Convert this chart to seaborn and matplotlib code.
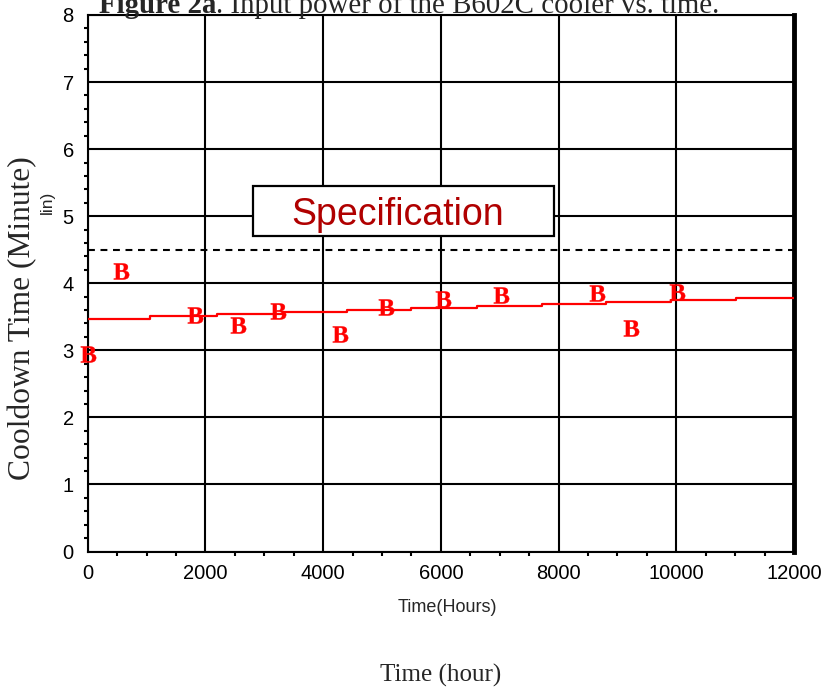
import matplotlib
matplotlib.use("Agg")
import matplotlib.pyplot as plt
import seaborn as sns
import pandas as pd
from matplotlib.patches import Rectangle
from matplotlib.ticker import MultipleLocator

# ---------------- data ----------------
step_hours = [0, 1050, 2190, 3310, 4410, 5500, 6620, 7720, 8810, 9910, 11020, 12000]
step_minutes = [3.47, 3.51, 3.54, 3.57, 3.60, 3.63, 3.66, 3.69, 3.72, 3.75, 3.78, 3.78]
test_hours = [0, 570, 1820, 2550, 3230, 4280, 5060, 6040, 7020, 8660, 9235, 10010]
test_minutes = [2.95, 4.19, 3.52, 3.37, 3.58, 3.25, 3.64, 3.76, 3.82, 3.86, 3.33, 3.87]
spec_minutes = 4.5
x_ticks = [0, 2000, 4000, 6000, 8000, 10000, 12000]
y_ticks = [0, 1, 2, 3, 4, 5, 6, 7, 8]

title_bold = "Figure 2a"
title_rest = ". Input power of the B602C cooler vs. time."
y_label = "Cooldown Time (Minute)"
x_label_inner = "Time(Hours)"
x_label_outer = "Time (hour)"
spec_label = "Specification"
stray_label = "lin)"

# ---------------- style ----------------
sns.set_theme(style="white")
plt.rcParams["font.family"] = ["Liberation Sans", "DejaVu Sans"]
plt.rcParams["mathtext.fontset"] = "custom"
plt.rcParams["mathtext.rm"] = "Liberation Serif"
plt.rcParams["mathtext.bf"] = "Liberation Serif:bold"

W, H = 825, 689
fig = plt.figure(figsize=(W / 100, H / 100), dpi=100)
fig.patch.set_facecolor("white")
ax = fig.add_axes([87.7 / W, (H - 551.5) / H, (794 - 87.7) / W, (551.5 - 15) / H])
ax.set_facecolor("white")

steps = pd.DataFrame({"hours": step_hours, "minutes": step_minutes})
tests = pd.DataFrame({"hours": test_hours, "minutes": test_minutes})

ax.axhline(spec_minutes, color="black", lw=1.5, ls=(0, (3.3, 2.7)), zorder=2)
sns.lineplot(data=steps, x="hours", y="minutes", ax=ax, color="red",
             lw=1.6, drawstyle="steps-post", zorder=4)
sns.scatterplot(data=tests, x="hours", y="minutes", ax=ax, color="red",
                marker=r"$\mathbf{B}$", s=135, edgecolor="red", linewidth=0.3,
                zorder=5, clip_on=False)

ax.set_xlim(0, 12000)
ax.set_ylim(0, 8)
ax.set_xticks(x_ticks)
ax.set_yticks(y_ticks)
ax.set_xticklabels([str(v) for v in x_ticks])
ax.set_yticklabels([str(v) for v in y_ticks])
ax.xaxis.set_minor_locator(MultipleLocator(500))
ax.yaxis.set_minor_locator(MultipleLocator(0.2))
ax.grid(True, which="major", color="black", lw=1.5, zorder=1)
ax.set_axisbelow(True)
ax.tick_params(which="major", length=7, width=1.5, direction="out",
               labelsize=14.5, colors="black")
ax.tick_params(axis="x", which="major", pad=2)
ax.tick_params(axis="y", which="major", pad=3)
ax.tick_params(which="minor", length=3, width=1.5, direction="out",
               colors="black", bottom=True, left=True)
ax.set_xlabel("")
ax.set_ylabel("")
for side in ["left", "bottom", "top"]:
    ax.spines[side].set_color("black")
    ax.spines[side].set_linewidth(1.5)
    ax.spines[side].set_visible(True)
ax.spines["right"].set_color("black")
ax.spines["right"].set_linewidth(3.5)
ax.spines["right"].set_visible(True)

# Specification box
box = Rectangle((0.2337, 0.5877), 0.4263, 0.0933, transform=ax.transAxes,
                facecolor="white", edgecolor="black", lw=1.6, zorder=6)
ax.add_patch(box)
ax.text(0.439, 0.608, spec_label, transform=ax.transAxes, ha="center",
        va="baseline", fontsize=27, color="#b00000", zorder=7,
        family=["Liberation Sans", "DejaVu Sans"])

# texts
fig.text(23 / W, (H - 318.5) / H, y_label, rotation=90, ha="center",
         va="center", fontsize=22.7, family=["Liberation Serif", "DejaVu Serif"])
fig.text(47 / W, (H - 202) / H, stray_label, rotation=90, ha="center",
         va="center", fontsize=12.5, family=["Liberation Sans", "DejaVu Sans"])
fig.text(447.5 / W, (H - 608) / H, x_label_inner, ha="center", va="center",
         fontsize=13, family=["Liberation Sans", "DejaVu Sans"])
fig.text(441 / W, (H - 682) / H, x_label_outer, ha="center", va="baseline",
         fontsize=18, family=["Liberation Serif", "DejaVu Serif"])

t1 = fig.text(99 / W, (H - 13) / H, title_bold, ha="left", va="baseline",
              fontsize=20.8, weight="bold",
              family=["Liberation Serif", "DejaVu Serif"])
fig.canvas.draw()
bb = t1.get_window_extent()
fig.text(bb.x1 / W, (H - 13) / H, title_rest, ha="left", va="baseline",
         fontsize=20.8, family=["Liberation Serif", "DejaVu Serif"])

fig.savefig("out.png", dpi=100, facecolor="white")
